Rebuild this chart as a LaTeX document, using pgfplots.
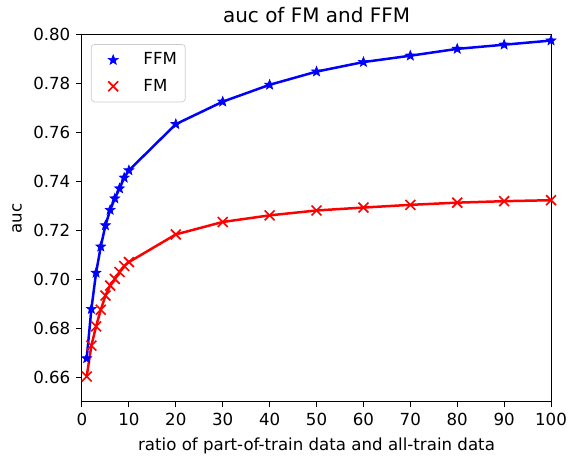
\documentclass[border=0pt]{standalone}
\usepackage{fontspec}
\setmainfont{DejaVu Sans}
\usepackage{pgfplots}
\pgfplotsset{compat=1.18}
\pgfdeclareplotmark{fstar}{%
  \pgfpathmoveto{\pgfpointpolar{90}{\pgfplotmarksize}}%
  \pgfpathlineto{\pgfpointpolar{126}{0.42\pgfplotmarksize}}%
  \pgfpathlineto{\pgfpointpolar{162}{\pgfplotmarksize}}%
  \pgfpathlineto{\pgfpointpolar{198}{0.42\pgfplotmarksize}}%
  \pgfpathlineto{\pgfpointpolar{234}{\pgfplotmarksize}}%
  \pgfpathlineto{\pgfpointpolar{270}{0.42\pgfplotmarksize}}%
  \pgfpathlineto{\pgfpointpolar{306}{\pgfplotmarksize}}%
  \pgfpathlineto{\pgfpointpolar{342}{0.42\pgfplotmarksize}}%
  \pgfpathlineto{\pgfpointpolar{18}{\pgfplotmarksize}}%
  \pgfpathlineto{\pgfpointpolar{54}{0.42\pgfplotmarksize}}%
  \pgfpathclose
  \pgfusepathqfillstroke}
\begin{document}
\begin{tikzpicture}
\begin{axis}[
  scale only axis,
  width=282pt, height=220.5pt,
  xmin=0, xmax=100, ymin=0.65, ymax=0.80,
  xtick={0,10,...,100},
  ytick={0.66,0.68,...,0.801},
  yticklabel style={/pgf/number format/.cd,fixed,fixed zerofill,precision=2},
  /pgf/number format/assume math mode=true,
  tick align=outside, tick pos=left,
  major tick length=3.5pt,
  tick style={black, line width=0.6pt},
  axis line style={line width=0.6pt},
  ticklabel style={font=\fontsize{10}{12}\selectfont},
  title={auc of FM and FFM},
  title style={font=\fontsize{12}{14}\selectfont, yshift=-2pt},
  xlabel={ratio of part-of-train data and all-train data},
  ylabel={auc},
  label style={font=\fontsize{10}{12}\selectfont},
  legend style={font=\fontsize{10}{12}\selectfont, draw=black!20, rounded corners=2pt, at={(0.019,0.975)}, anchor=north west, row sep=3pt, inner xsep=3pt, inner ysep=3pt},
  legend cell align=left,
  legend image code/.code={\draw[#1] plot coordinates {(10pt,0pt)}; \path (0pt,0pt) (20pt,0pt);},
]
\addplot[blue, line width=1.5pt, forget plot] coordinates {
(1,0.6677)(2,0.6879)(3,0.7027)(4,0.7134)(5,0.7221)(6,0.7284)(7,0.7331)(8,0.7372)(9,0.7416)(10,0.7446)
(20,0.7635)(30,0.7727)(40,0.7796)(50,0.7850)(60,0.7889)(70,0.7915)(80,0.7943)(90,0.7960)(100,0.7977)};
\addplot[blue, only marks, mark=fstar, mark size=3.1pt, mark options={line width=0.4pt, fill=blue}] coordinates {
(1,0.6677)(2,0.6879)(3,0.7027)(4,0.7134)(5,0.7221)(6,0.7284)(7,0.7331)(8,0.7372)(9,0.7416)(10,0.7446)
(20,0.7635)(30,0.7727)(40,0.7796)(50,0.7850)(60,0.7889)(70,0.7915)(80,0.7943)(90,0.7960)(100,0.7977)};
\addlegendentry{\hspace{6pt}FFM}
\addplot[red, line width=1.5pt, forget plot] coordinates {
(1,0.6603)(2,0.6729)(3,0.6808)(4,0.6876)(5,0.6934)(6,0.6975)(7,0.7002)(8,0.7030)(9,0.7055)(10,0.7071)
(20,0.7184)(30,0.7235)(40,0.7262)(50,0.7282)(60,0.7294)(70,0.7305)(80,0.7314)(90,0.7320)(100,0.7324)};
\addplot[red, only marks, mark=x, mark size=4.2pt, mark options={line width=1pt}] coordinates {
(1,0.6603)(2,0.6729)(3,0.6808)(4,0.6876)(5,0.6934)(6,0.6975)(7,0.7002)(8,0.7030)(9,0.7055)(10,0.7071)
(20,0.7184)(30,0.7235)(40,0.7262)(50,0.7282)(60,0.7294)(70,0.7305)(80,0.7314)(90,0.7320)(100,0.7324)};
\addlegendentry{\hspace{6pt}FM}
\end{axis}
\pgfresetboundingbox
\path ([shift={(-49.3pt,-33.7pt)}]current axis.south west) rectangle ([shift={(10.2pt,21pt)}]current axis.north east);
\end{tikzpicture}
\end{document}
